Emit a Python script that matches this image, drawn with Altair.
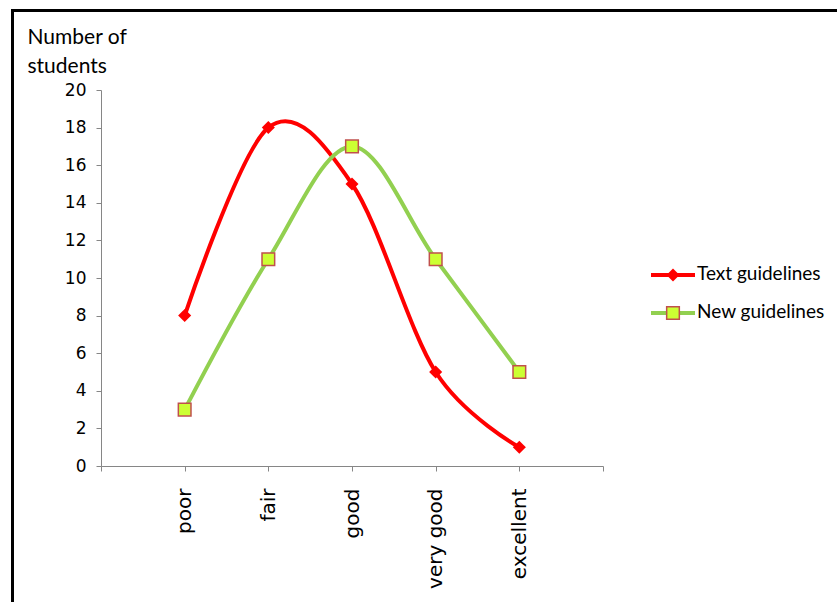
import altair as alt
import pandas as pd

categories = ["poor", "fair", "good", "very good", "excellent"]
positions = [1, 2, 3, 4, 5]
text_guidelines = [8, 18, 15, 5, 1]
new_guidelines = [3, 11, 17, 11, 5]
y_ticks = list(range(0, 21, 2))
x_ticks = [0, 1, 2, 3, 4, 5, 6]

df_text = pd.DataFrame({"pos": positions, "cat": categories, "value": text_guidelines})
df_new = pd.DataFrame({"pos": positions, "cat": categories, "value": new_guidelines})

RED = "#ff0000"
GREEN = "#92d050"
SQ_FILL = "#ccff33"
SQ_STROKE = "#c0504d"
AXIS_GRAY = "#868686"

label_expr = " : ".join(
    [f"datum.value == {p} ? '{c}'" for p, c in zip(positions, categories)]
) + " : ''"

x_enc = alt.X(
    "pos:Q",
    scale=alt.Scale(domain=[0, 6], nice=False, zero=False),
    axis=alt.Axis(
        values=x_ticks,
        labelExpr=label_expr,
        labelAngle=-90,
        labelAlign="right",
        labelBaseline="middle",
        labelFont="DejaVu Sans",
        labelFontSize=20,
        labelColor="#000000",
        labelPadding=17,
        labelOverlap=False,
        tickSize=5,
        tickColor=AXIS_GRAY,
        domainColor=AXIS_GRAY,
        grid=False,
        title=None,
    ),
)
y_enc = alt.Y(
    "value:Q",
    scale=alt.Scale(domain=[0, 20], nice=False),
    axis=alt.Axis(
        values=y_ticks,
        tickCount=11,
        labelFont="DejaVu Sans",
        labelFontSize=17,
        labelColor="#000000",
        labelPadding=10,
        labelOverlap=False,
        labelFlush=False,
        tickSize=5,
        tickColor=AXIS_GRAY,
        domainColor=AXIS_GRAY,
        grid=False,
        title=["Number of", "students"],
        titleAngle=0,
        titleAlign="left",
        titleBaseline="top",
        titleX=-74,
        titleY=-64,
        titleFont="Lato",
        titleFontSize=21,
        titleFontWeight="normal",
        titleColor="#000000",
        titleLineHeight=29,
    ),
)

red_line = alt.Chart(df_text).mark_line(
    interpolate="cardinal", tension=0, color=RED, strokeWidth=4
).encode(x=x_enc, y=y_enc)
red_pts = alt.Chart(df_text).mark_point(
    shape="diamond", filled=True, size=170, color=RED, opacity=1
).encode(x=x_enc, y=y_enc)

green_line = alt.Chart(df_new).mark_line(
    interpolate="cardinal", tension=0, color=GREEN, strokeWidth=4
).encode(x=x_enc, y=y_enc)
green_pts = alt.Chart(df_new).mark_point(
    shape="square", filled=True, size=160, fill=SQ_FILL, stroke=SQ_STROKE,
    strokeWidth=1.5, opacity=1
).encode(x=x_enc, y=y_enc)

# manual legend
leg_names = ["Text guidelines", "New guidelines"]
one = pd.DataFrame({"k": [0]})
leg_red_line = alt.Chart(one).mark_rule(color=RED, strokeWidth=4).encode(
    x=alt.value(550), x2=alt.value(594), y=alt.value(185))
leg_red_pt = alt.Chart(one).mark_point(shape="diamond", filled=True, size=170, color=RED, opacity=1).encode(
    x=alt.value(572), y=alt.value(185))
leg_red_txt = alt.Chart(one).mark_text(
    text=leg_names[0], align="left", baseline="middle", font="Lato", fontSize=19, color="#000000"
).encode(x=alt.value(596), y=alt.value(184))
leg_green_line = alt.Chart(one).mark_rule(color=GREEN, strokeWidth=4).encode(
    x=alt.value(550), x2=alt.value(594), y=alt.value(223))
leg_green_pt = alt.Chart(one).mark_point(shape="square", filled=True, size=160, fill=SQ_FILL,
                                         stroke=SQ_STROKE, strokeWidth=1.5, opacity=1).encode(
    x=alt.value(572), y=alt.value(223))
leg_green_txt = alt.Chart(one).mark_text(
    text=leg_names[1], align="left", baseline="middle", font="Lato", fontSize=19, color="#000000"
).encode(x=alt.value(596), y=alt.value(222))

# frame border (left and top)
border_left = alt.Chart(one).mark_rule(color="#000000", strokeWidth=3).encode(
    x=alt.value(-88.5), y=alt.value(-81), y2=alt.value(520))
border_top = alt.Chart(one).mark_rule(color="#000000", strokeWidth=3).encode(
    x=alt.value(-90), x2=alt.value(740), y=alt.value(-79.5))

chart = alt.layer(
    red_line, green_line, red_pts, green_pts,
    leg_red_line, leg_red_pt, leg_red_txt,
    leg_green_line, leg_green_pt, leg_green_txt,
    border_left, border_top,
).properties(
    width=502,
    height=376,
    autosize=alt.AutoSizeParams(type="none"),
    padding={"left": 101, "top": 90, "right": 234, "bottom": 136},
    background="#ffffff",
).configure_view(stroke=None)

chart.save("out.html", embed_options={"renderer": "svg", "actions": False})
